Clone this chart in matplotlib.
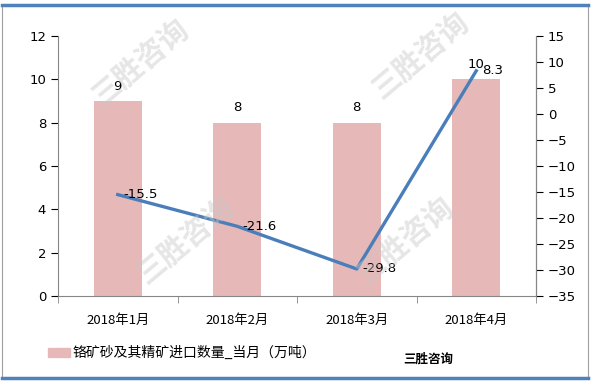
import numpy as np
import matplotlib
matplotlib.use("Agg")
import matplotlib.pyplot as plt
from matplotlib.patches import Rectangle
from matplotlib.lines import Line2D

plt.rcParams['font.family'] = ['Noto Sans CJK SC', 'DejaVu Sans']

months = ["2018年1月", "2018年2月", "2018年3月", "2018年4月"]
volume = [9, 8, 8, 10]            # 万吨
yoy = [-15.5, -21.6, -29.8, 8.3]  # 同比 %
legend_label = "铬矿砂及其精矿进口数量_当月（万吨）"
brand = "三胜咨询"

bar_color = "#E6B9B8"
line_color = "#4A7EBB"
axis_color = "#868686"

fig = plt.figure(figsize=(5.92, 3.84), dpi=100)

# watermark, drawn first so it stays underneath
for wx, wy in [(140, 62), (420, 55), (185, 240), (405, 240)]:
    fig.text(wx / 592, 1 - wy / 384, brand, fontsize=21, color="#C8C8C8", alpha=0.45,
             rotation=40, ha="center", va="center", weight="bold", zorder=0)

ax = fig.add_axes([58 / 592, 1 - 296 / 384, (536 - 58) / 592, (296 - 36) / 384])
ax.patch.set_alpha(0)
ax2 = ax.twinx()

x = np.arange(len(months))
ax.bar(x, volume, width=0.4, color=bar_color, zorder=2)
ax.set_xlim(-0.5, len(months) - 0.5)
ax.set_ylim(0, 12)
ax.set_yticks(range(0, 13, 2))

for xi, v in zip(x, volume):
    ax.annotate("{:d}".format(v), (xi, v), xytext=(0, 6), textcoords="offset points",
                ha="center", va="bottom", fontsize=9.5, family="DejaVu Sans")

ax2.plot(x, yoy, color=line_color, lw=2.4, zorder=3)
ax2.set_ylim(-35, 15)
ax2.set_yticks(range(-35, 16, 5))
for xi, v in zip(x, yoy):
    ax2.annotate("{:.1f}".format(v), (xi, v), xytext=(4, 0), textcoords="offset points",
                 ha="left", va="center", fontsize=9.5, family="DejaVu Sans")

# category ticks sit between the groups
ax.set_xticks(x)
ax.set_xticklabels(months, fontsize=9.5)
ax.tick_params(axis="x", length=0, pad=13)
ax.set_xticks(np.arange(-0.5, len(months), 1), minor=True)
ax.tick_params(axis="x", which="minor", length=5, color=axis_color, direction="out")

for a in (ax, ax2):
    a.spines["top"].set_visible(False)
    for s in ("left", "right", "bottom"):
        a.spines[s].set_color(axis_color)
    a.tick_params(axis="y", colors="black", labelsize=9.5, length=5, direction="out")
    for t in a.get_yticklines():
        t.set_color(axis_color)
ax2.spines["left"].set_visible(False)
ax2.spines["bottom"].set_visible(False)
for lab in ax.get_yticklabels() + ax2.get_yticklabels():
    lab.set_family("DejaVu Sans")

# legend
fig.patches.append(Rectangle((48 / 592, 1 - 357 / 384), 22 / 592, 9 / 384,
                             transform=fig.transFigure, color=bar_color))
fig.text(73 / 592, 1 - 353 / 384, legend_label, fontsize=10, va="center", ha="left")
fig.text(403 / 592, 1 - 359 / 384, brand, fontsize=9, va="center", ha="left", weight="bold")

# outer frame
fig.lines.append(Line2D([2 / 592, 2 / 592], [6 / 384, 1 - 5 / 384], transform=fig.transFigure,
                        color="#A0A0A0", lw=0.8))
fig.lines.append(Line2D([588 / 592, 588 / 592], [6 / 384, 1 - 5 / 384], transform=fig.transFigure,
                        color="#A0A0A0", lw=0.8))
fig.lines.append(Line2D([2 / 592, 588 / 592], [1 - 5 / 384, 1 - 5 / 384], transform=fig.transFigure,
                        color="#4F81BD", lw=2.5))
fig.lines.append(Line2D([2 / 592, 588 / 592], [6 / 384, 6 / 384], transform=fig.transFigure,
                        color="#4F81BD", lw=2.5))

fig.savefig("out.png", dpi=100)
